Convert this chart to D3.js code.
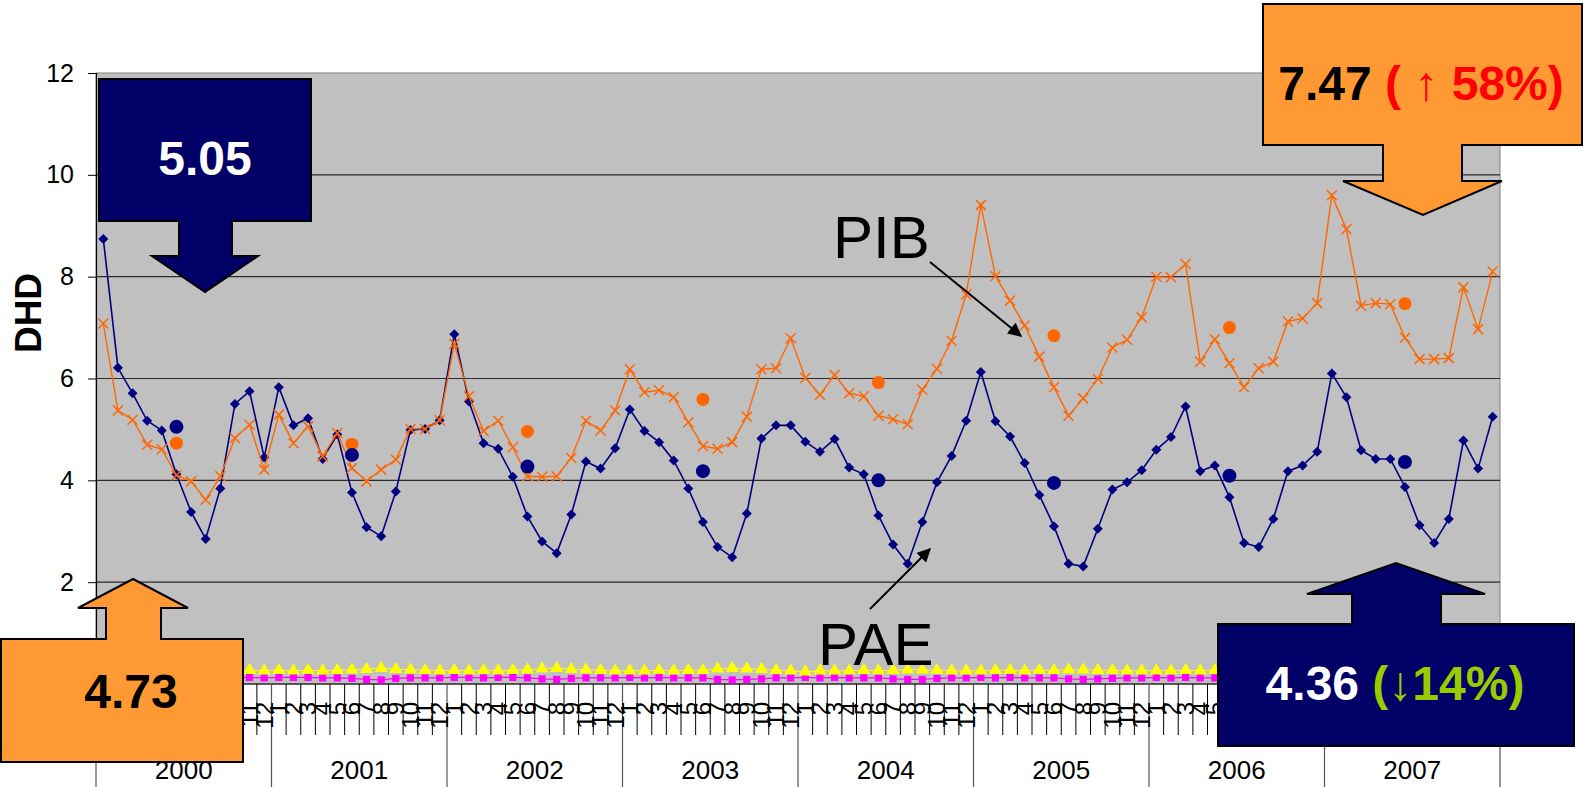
<!DOCTYPE html>
<html>
<head>
<meta charset="utf-8">
<script src="https://cdn.jsdelivr.net/npm/d3@7"></script>
<style>
    body { margin: 0; background: #ffffff; }
    svg { display: block; font-family: "Liberation Sans", Arial, sans-serif; }
</style>
</head>
<body>
<div class="curr-graff"></div>
<script>
// ---- Chart data ----
const years = ["2000", "2001", "2002", "2003", "2004", "2005", "2006", "2007"];
const monthLabels = ["1", "2", "3", "4", "5", "6", "7", "8", "9", "10", "11", "12"];
const yTicks = [0, 2, 4, 6, 8, 10, 12];

// PAE, monthly (navy diamonds)
const paeValues = [
    8.74, 6.21, 5.71, 5.17, 4.98, 4.12, 3.38, 2.85, 3.84, 5.50, 5.75, 4.45,
    5.83, 5.08, 5.22, 4.42, 4.90, 3.76, 3.08, 2.90, 3.78, 4.99, 5.01, 5.18,
    6.87, 5.55, 4.73, 4.62, 4.07, 3.29, 2.80, 2.57, 3.33, 4.37, 4.23, 4.63,
    5.39, 4.97, 4.75, 4.39, 3.84, 3.18, 2.69, 2.49, 3.35, 4.82, 5.08, 5.08,
    4.76, 4.56, 4.81, 4.25, 4.12, 3.31, 2.74, 2.36, 3.18, 3.96, 4.48, 5.17,
    6.13, 5.16, 4.86, 4.34, 3.71, 3.10, 2.36, 2.31, 3.05, 3.82, 3.96, 4.20,
    4.60, 4.85, 5.45, 4.18, 4.29, 3.67, 2.77, 2.69, 3.24, 4.18, 4.29, 4.56,
    6.10, 5.63, 4.59, 4.42, 4.42, 3.87, 3.12, 2.77, 3.24, 4.78, 4.23, 5.25
];

// PIB, monthly (orange crosses)
const pibValues = [
    7.08, 5.37, 5.19, 4.70, 4.61, 4.10, 3.98, 3.62, 4.08, 4.83, 5.09, 4.21,
    5.29, 4.73, 5.06, 4.47, 4.93, 4.24, 3.98, 4.21, 4.41, 5.01, 5.01, 5.18,
    6.68, 5.65, 4.97, 5.17, 4.65, 4.08, 4.07, 4.08, 4.44, 5.17, 4.98, 5.37,
    6.18, 5.73, 5.77, 5.63, 5.14, 4.67, 4.62, 4.75, 5.25, 6.18, 6.20, 6.79,
    6.01, 5.68, 6.07, 5.71, 5.65, 5.27, 5.20, 5.10, 5.78, 6.19, 6.74, 7.65,
    9.41, 8.01, 7.53, 7.04, 6.43, 5.83, 5.27, 5.61, 5.99, 6.61, 6.76, 7.20,
    8.00, 7.99, 8.25, 6.33, 6.77, 6.30, 5.83, 6.20, 6.33, 7.12, 7.18, 7.48,
    9.60, 8.93, 7.43, 7.48, 7.46, 6.80, 6.38, 6.38, 6.40, 7.79, 6.97, 8.10
];

// Yearly averages (dots placed at June of each year)
const paeAverage = [5.05, 4.50, 4.27, 4.18, 4.00, 3.95, 4.09, 4.36];
const pibAverage = [4.73, 4.71, 4.96, 5.59, 5.92, 6.84, 7.00, 7.47];

// Two small series near zero (yellow triangles, magenta squares)
const yellowValues = [
    0.27, 0.26, 0.27, 0.26, 0.27, 0.28, 0.30, 0.31, 0.29, 0.28, 0.27, 0.26,
    0.27, 0.26, 0.27, 0.26, 0.27, 0.28, 0.29, 0.31, 0.29, 0.28, 0.27, 0.26,
    0.27, 0.26, 0.27, 0.26, 0.27, 0.28, 0.30, 0.31, 0.29, 0.28, 0.27, 0.26,
    0.26, 0.26, 0.27, 0.26, 0.27, 0.27, 0.30, 0.31, 0.30, 0.29, 0.27, 0.26,
    0.24, 0.26, 0.26, 0.26, 0.27, 0.26, 0.27, 0.28, 0.28, 0.27, 0.26, 0.26,
    0.26, 0.27, 0.27, 0.26, 0.27, 0.27, 0.28, 0.28, 0.27, 0.27, 0.26, 0.26,
    0.26, 0.26, 0.27, 0.26, 0.27, 0.27, 0.28, 0.29, 0.28, 0.27, 0.26, 0.26,
    0.27, 0.26, 0.27, 0.26, 0.27, 0.28, 0.29, 0.30, 0.28, 0.27, 0.26, 0.26
];
const pinkValues = [
    0.13, 0.12, 0.13, 0.13, 0.13, 0.12, 0.11, 0.10, 0.12, 0.12, 0.13, 0.12,
    0.13, 0.13, 0.13, 0.12, 0.12, 0.11, 0.09, 0.08, 0.11, 0.12, 0.12, 0.12,
    0.13, 0.13, 0.12, 0.13, 0.13, 0.12, 0.10, 0.09, 0.11, 0.12, 0.12, 0.12,
    0.13, 0.12, 0.13, 0.12, 0.12, 0.12, 0.09, 0.08, 0.09, 0.10, 0.12, 0.12,
    0.13, 0.12, 0.13, 0.12, 0.12, 0.12, 0.10, 0.09, 0.09, 0.11, 0.12, 0.12,
    0.13, 0.12, 0.13, 0.12, 0.12, 0.12, 0.10, 0.09, 0.10, 0.11, 0.12, 0.12,
    0.13, 0.12, 0.13, 0.12, 0.12, 0.12, 0.10, 0.09, 0.10, 0.11, 0.12, 0.12,
    0.13, 0.12, 0.13, 0.12, 0.12, 0.12, 0.10, 0.09, 0.10, 0.11, 0.12, 0.12
];

// ---- Layout ----
const width = 1585;
const height = 787;
const plotLeft = 96;
const plotRight = 1500;
const plotTop = 73;
const plotBottom = 684;

const navy = "#000080";
const orange = "#FF6600";

let svg = d3.select(".curr-graff")
    .append("svg")
    .attr("width", width)
    .attr("height", height);

svg.append("rect").attr("width", width).attr("height", height).attr("fill", "#ffffff");

// Scales: one band per month, points sit in the middle of each band
let xScale = d3.scaleBand()
    .domain(d3.range(paeValues.length))
    .range([plotLeft, plotRight]);

let yScale = d3.scaleLinear()
    .domain([0, 12])
    .range([plotBottom, plotTop]);

let yearScale = d3.scaleBand()
    .domain(years)
    .range([plotLeft, plotRight]);

function cx(i) { return xScale(i) + xScale.bandwidth() / 2; }

// Plot background
svg.append("rect")
    .attr("x", plotLeft)
    .attr("y", plotTop)
    .attr("width", plotRight - plotLeft)
    .attr("height", plotBottom - plotTop)
    .attr("fill", "#C0C0C0")
    .attr("stroke", "#808080")
    .attr("stroke-width", 1);

// Horizontal gridlines
svg.append("g")
    .selectAll("line")
    .data(yTicks.filter(d => d > 0 && d < 12))
    .enter().append("line")
    .attr("x1", plotLeft)
    .attr("x2", plotRight)
    .attr("y1", d => yScale(d))
    .attr("y2", d => yScale(d))
    .attr("stroke", "#2a2a2a")
    .attr("stroke-width", 1.2);

// Y axis
let yAxis = d3.axisLeft(yScale)
    .tickValues(yTicks)
    .tickSize(8)
    .tickPadding(14)
    .tickFormat(d3.format("d"));

let gy = svg.append("g")
    .attr("transform", `translate(${plotLeft},0)`)
    .call(yAxis);
gy.selectAll("text").style("font-size", "25px").attr("fill", "#000");
gy.selectAll("line").attr("stroke", "#000");
gy.select(".domain").attr("stroke", "#000").attr("stroke-width", 1.2);

// Y axis title
svg.append("text")
    .attr("transform", "translate(41,313) rotate(-90)")
    .attr("text-anchor", "middle")
    .style("font-size", "37px")
    .style("font-weight", "bold")
    .text("DHD");

// X axis: month ticks, month labels, year ticks and year labels
let gx = svg.append("g");

gx.append("line")
    .attr("x1", plotLeft).attr("x2", plotRight)
    .attr("y1", plotBottom).attr("y2", plotBottom)
    .attr("stroke", "#000").attr("stroke-width", 1.2);

gx.selectAll(".month-tick")
    .data(d3.range(paeValues.length).filter(i => i % 12 !== 0))
    .enter().append("line")
    .attr("x1", d => xScale(d)).attr("x2", d => xScale(d))
    .attr("y1", plotBottom).attr("y2", 735)
    .attr("stroke", "#000").attr("stroke-width", 1);

gx.selectAll(".year-tick")
    .data(years.concat(["end"]))
    .enter().append("line")
    .attr("x1", (d, i) => i < years.length ? yearScale(d) : plotRight)
    .attr("x2", (d, i) => i < years.length ? yearScale(d) : plotRight)
    .attr("y1", plotBottom).attr("y2", height)
    .attr("stroke", "#555").attr("stroke-width", 1.2);

gx.selectAll(".month-label")
    .data(d3.range(paeValues.length))
    .enter().append("text")
    .attr("transform", d => `translate(${cx(d)},702) rotate(-90)`)
    .attr("text-anchor", "end")
    .attr("dy", "0.35em")
    .style("font-size", "24px")
    .text(d => monthLabels[d % 12]);

gx.selectAll(".year-label")
    .data(years)
    .enter().append("text")
    .attr("x", d => yearScale(d) + yearScale.bandwidth() / 2)
    .attr("y", 779)
    .attr("text-anchor", "middle")
    .style("font-size", "26px")
    .text(d => d);

// Draws one line series with its markers
function DrawSeries(values, color, lineWidth, markerPath, markerFill, markerStroke) {
    let line = d3.line()
        .x((d, i) => cx(i))
        .y(d => yScale(d));

    svg.append("path")
        .datum(values)
        .attr("fill", "none")
        .attr("stroke", color)
        .attr("stroke-width", lineWidth)
        .attr("d", line);

    svg.append("g")
        .selectAll("path")
        .data(values)
        .enter().append("path")
        .attr("transform", (d, i) => `translate(${cx(i)},${yScale(d)})`)
        .attr("d", markerPath)
        .attr("fill", markerFill)
        .attr("stroke", markerStroke)
        .attr("stroke-width", 1.5);
}

let diamond = "M0,-5L5,0L0,5L-5,0Z";
let cross = "M-5,-5L5,5M-5,5L5,-5";
let triangle = d3.symbol().type(d3.symbolTriangle).size(75)();
let square = d3.symbol().type(d3.symbolSquare).size(52)();

DrawSeries(pinkValues, "#FF00FF", 1.2, square, "#FF00FF", "none");
DrawSeries(yellowValues, "#FFFF00", 1.2, triangle, "#FFFF00", "none");
DrawSeries(paeValues, navy, 1.6, diamond, navy, "none");
DrawSeries(pibValues, orange, 1.4, cross, "none", orange);

// Yearly averages, placed at June
svg.append("g")
    .selectAll("circle")
    .data(pibAverage)
    .enter().append("circle")
    .attr("cx", (d, i) => cx(i * 12 + 5))
    .attr("cy", d => yScale(d))
    .attr("r", 6.5)
    .attr("fill", orange);

svg.append("g")
    .selectAll("circle")
    .data(paeAverage)
    .enter().append("circle")
    .attr("cx", (d, i) => cx(i * 12 + 5))
    .attr("cy", d => yScale(d))
    .attr("r", 7)
    .attr("fill", navy);

// Series labels with pointer arrows
svg.append("defs").append("marker")
    .attr("id", "head")
    .attr("viewBox", "0 0 10 10")
    .attr("refX", 9).attr("refY", 5)
    .attr("markerWidth", 7).attr("markerHeight", 7)
    .attr("markerUnits", "strokeWidth")
    .attr("orient", "auto")
    .append("path")
    .attr("d", "M0,0L10,5L0,10Z")
    .attr("fill", "#000");

svg.append("text").attr("x", 833).attr("y", 258).style("font-size", "60px").text("PIB");
svg.append("line")
    .attr("x1", 930).attr("y1", 262).attr("x2", 1021).attr("y2", 336)
    .attr("stroke", "#000").attr("stroke-width", 2)
    .attr("marker-end", "url(#head)");

svg.append("text").attr("x", 818).attr("y", 665).style("font-size", "60px").text("PAE");
svg.append("line")
    .attr("x1", 870).attr("y1", 609).attr("x2", 930).attr("y2", 549)
    .attr("stroke", "#000").attr("stroke-width", 2)
    .attr("marker-end", "url(#head)");

// Callout boxes with arrows
function DrawCallout(points, fill) {
    svg.append("polygon")
        .attr("points", points.map(p => p.join(",")).join(" "))
        .attr("fill", fill)
        .attr("stroke", "#000")
        .attr("stroke-width", 2);
}

// navy, pointing down: 2000 PAE
DrawCallout([[99,79],[311,79],[311,221],[232,221],[232,256],[258,256],[205,292],[152,256],[179,256],[179,221],[99,221]], "#000066");
// orange, pointing down: 2007 PIB
DrawCallout([[1263,4],[1582,4],[1582,145],[1462,145],[1462,181],[1502,181],[1423,215],[1343,181],[1383,181],[1383,145],[1263,145]], "#FF9933");
// orange, pointing up: 2000 PIB
DrawCallout([[1,762],[243,762],[243,639],[161,639],[161,608],[188,608],[133,579],[78,608],[106,608],[106,639],[1,639]], "#FF9933");
// navy, pointing up: 2007 PAE
DrawCallout([[1218,746],[1574,746],[1574,624],[1441,624],[1441,594],[1485,594],[1396,563],[1307,594],[1352,594],[1352,624],[1218,624]], "#000066");

function CalloutText(x, y, parts) {
    let t = svg.append("text")
        .attr("x", x).attr("y", y)
        .attr("text-anchor", "middle")
        .style("font-size", "48px")
        .style("font-weight", "bold");
    parts.forEach(p => {
        t.append("tspan")
            .attr("fill", p[1])
            .style("font-weight", p[2] || "bold")
            .text(p[0]);
    });
}

CalloutText(205, 175, [["5.05", "#ffffff"]]);
CalloutText(1421, 100, [["7.47 ", "#000000"], ["( ", "#FF0000"], ["\u2191", "#FF0000", "normal"], [" 58%)", "#FF0000"]]);
CalloutText(131, 708, [["4.73", "#000000"]]);
CalloutText(1395, 700, [["4.36 ", "#ffffff"], ["(", "#99CC00"], ["\u2193", "#99CC00", "normal"], ["14%)", "#99CC00"]]);
</script>
</body>
</html>
